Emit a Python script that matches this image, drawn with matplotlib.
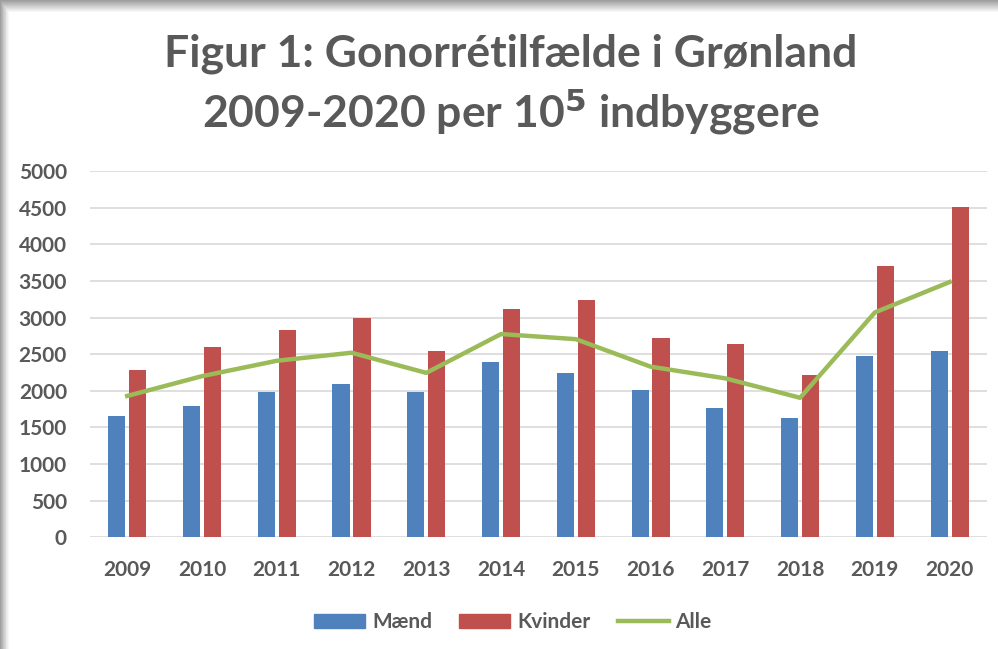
import matplotlib.pyplot as plt
import numpy as np
from matplotlib.patches import Rectangle
from matplotlib.lines import Line2D

years = ['2009', '2010', '2011', '2012', '2013', '2014',
         '2015', '2016', '2017', '2018', '2019', '2020']
maend = [1650, 1790, 1980, 2090, 1980, 2390, 2250, 2010, 1760, 1625, 2470, 2550]
kvinder = [2280, 2600, 2825, 2990, 2550, 3120, 3235, 2715, 2635, 2220, 3700, 4515]
alle = [1930, 2200, 2410, 2520, 2245, 2775, 2705, 2330, 2170, 1905, 3070, 3485]

BLUE = '#4f81bd'
RED = '#c0504d'
GREEN = '#9bbb59'
TXT = '#595959'

plt.rcParams['font.family'] = ['Lato', 'DejaVu Sans']

fig = plt.figure(figsize=(9.98, 6.49), dpi=100)
fig.patch.set_facecolor('white')

# drop shadow around the chart frame (top and left)
bg = fig.add_axes([0, 0, 1, 1], zorder=-10)
bg.set_xlim(0, 998)
bg.set_ylim(649, 0)
bg.axis('off')
for i in range(12):
    shade = 0.62 + 0.38 * i / 12
    bg.add_patch(Rectangle((i * 0.7, i), 998, 649, facecolor=(shade, shade, shade),
                           edgecolor='none'))
bg.add_patch(Rectangle((9, 12), 998, 649, facecolor='white', edgecolor='none'))

ax = fig.add_axes([0.090, 0.172, 0.899, 0.5645])
x = np.arange(len(years))
w = 0.23
ax.bar(x - 0.14, maend, w, color=BLUE, zorder=3, label='Mænd')
ax.bar(x + 0.14, kvinder, w, color=RED, zorder=3, label='Kvinder')
ax.plot(x, alle, color=GREEN, lw=3.2, zorder=4, label='Alle')

ax.set_xlim(-0.5, len(years) - 0.5)
ax.set_ylim(0, 5000)
ax.set_yticks(range(0, 5001, 500))
ax.set_xticks(x)
ax.set_xticklabels(years)
ax.grid(axis='y', color='#d9d9d9', lw=1.2, zorder=0)
for s in ax.spines.values():
    s.set_visible(False)
ax.tick_params(length=0, colors=TXT, labelsize=15)
ax.tick_params(axis='y', pad=16.5)
ax.tick_params(axis='x', pad=16)
for lab in ax.get_xticklabels() + ax.get_yticklabels():
    lab.set_fontweight('bold')
    lab.set_color(TXT)

fig.text(0.512, 0.897, 'Figur 1: Gonorrétilfælde i Grønland', ha='center', va='baseline',
         fontsize=32, fontweight='bold', color=TXT)
fig.text(0.512, 0.804, '2009-2020 per 10$^{\\mathbf{5}}$ indbyggere', ha='center',
         va='baseline', fontsize=32, fontweight='bold', color=TXT)

handles = [Rectangle((0, 0), 1, 1, color=BLUE), Rectangle((0, 0), 1, 1, color=RED),
           Line2D([], [], color=GREEN, lw=3.2)]
leg = fig.legend(handles, ['Mænd', 'Kvinder', 'Alle'], loc='center',
                 bbox_to_anchor=(0.514, 0.0416), ncol=3, frameon=False,
                 handlelength=2.45, handleheight=0.67, handletextpad=0.33,
                 columnspacing=1.3, prop={'size': 15, 'weight': 'bold'})
for t in leg.get_texts():
    t.set_color(TXT)

fig.savefig('out.png', dpi=100)
